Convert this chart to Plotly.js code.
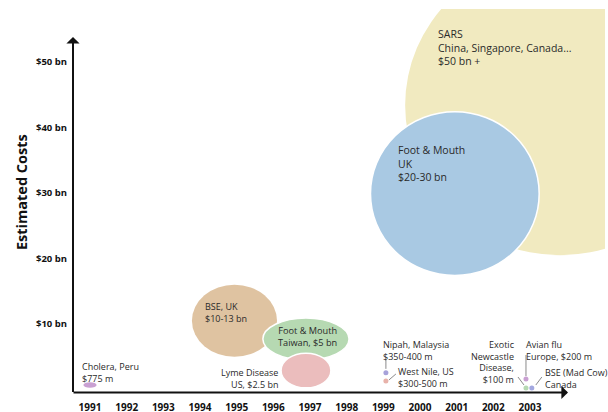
<!DOCTYPE html>
<html>
<head>
<meta charset="utf-8">
<script src="https://cdn.plot.ly/plotly-3.0.1.min.js"></script>
<style>html,body{margin:0;padding:0;background:#fff;}#chart{width:608px;height:412px;}</style>
</head>
<body>
<div id="chart"></div>
<script>
// ---------- data ----------
const years = [1991,1992,1993,1994,1995,1996,1997,1998,1999,2000,2001,2002,2003];
const yearLabels = years.map(String);
const costTicks = [10,20,30,40,50];
const costTickLabels = ['$10 bn','$20 bn','$30 bn','$40 bn','$50 bn'];

// bubble outbreaks (ellipses): centre year, centre cost (bn), span in years, span in bn
const bubbleNames = ['SARS','Foot & Mouth UK','BSE UK','Foot & Mouth Taiwan','Lyme Disease','Cholera Peru'];
const bubbleYear  = [2003.82, 2000.95, 1994.94, 1996.89, 1996.89, 1991.0];
const bubbleCost  = [43.4, 29.9, 10.5, 7.7, 2.9, 0.69];
const bubbleSpanYears = [8.45, 4.6, 2.32, 2.35, 1.36, 0.36];
const bubbleSpanCost  = [45.8, 25.0, 11.0, 6.4, 5.3, 0.85];

// small outbreaks (dots)
const dotNames = ['Nipah, Malaysia','West Nile, US','Avian flu, Europe','Exotic Newcastle Disease','BSE (Mad Cow) Canada'];
const dotYear  = [1999.07, 1999.07, 2002.89, 2002.89, 2003.05];
const dotCost  = [2.54, 1.30, 1.60, 0.23, 0.23];

// ---------- styles / layout helpers ----------
const W = 608, H = 412, MT = 9, MR = 3;
const SX = 36.667, X0 = 1991 - 90 / SX;           // px per year
const SY = 6.55, Y0 = 0, YPX0 = 389.5;             // px per bn, zero line pixel
const xRange = [X0, X0 + (W - MR) / SX];
const yRange = [Y0 - (H - YPX0) / SY, (YPX0 - MT) / SY];
const px2x = p => X0 + p / SX;
const py2y = p => (YPX0 - p) / SY;

const bubbleFill = ['#f1eac0','#a9c9e3','#dfc3a1','#b6d9b2','#ebbdbd','#c9a0d2'];
const bubbleLine = [0, 1.5, 0, 1.5, 1.5, 0];
const dotColor = ['#a7a2da','#e8b2aa','#c9a0d2','#b6d9b2','#a3a8e0'];

// leader lines relative to dots (pixel offsets: dx0,dy0,dx1,dy1, dy up)
const leaders = [
  [0, 4, 0, 14],
  [3, 1, 10, 7],
  [0, 3, 0, 24],
  [-2, 3, -8, 11],
  [4, 3, 10, 11]
];

const shapes = [];
bubbleNames.forEach((n, i) => {
  shapes.push({
    type: 'circle', xref: 'x', yref: 'y', layer: 'below',
    x0: bubbleYear[i] - bubbleSpanYears[i] / 2, x1: bubbleYear[i] + bubbleSpanYears[i] / 2,
    y0: bubbleCost[i] - bubbleSpanCost[i] / 2, y1: bubbleCost[i] + bubbleSpanCost[i] / 2,
    fillcolor: bubbleFill[i],
    line: {color: '#ffffff', width: bubbleLine[i]}
  });
});
dotNames.forEach((n, i) => {
  const l = leaders[i];
  shapes.push({
    type: 'line', xref: 'x', yref: 'y',
    xsizemode: 'pixel', xanchor: dotYear[i], ysizemode: 'pixel', yanchor: dotCost[i],
    x0: l[0], x1: l[2], y0: l[1], y1: l[3],
    line: {color: '#8a8a8a', width: 1}
  });
});

const FONT = 'Open Sans, Noto Sans, sans-serif';
const TXT = '#2a2a2a';
function lab(text, px, py, align, size) {
  return {
    text: text, xref: 'x', yref: 'y', x: px2x(px), y: py2y(py),
    xanchor: align, yanchor: 'top', align: align, showarrow: false,
    font: {family: FONT, size: size, color: TXT}, borderpad: 0
  };
}
const annotations = [
  lab('SARS<br>China, Singapore, Canada...<br>$50 bn +', 437, 26, 'left', 10.5),
  lab('Foot &amp; Mouth<br>UK<br>$20-30 bn', 397, 142, 'left', 10.5),
  lab('BSE, UK<br>$10-13 bn', 204, 299, 'left', 9),
  lab('Foot &amp; Mouth<br>Taiwan, $5 bn', 307, 323, 'center', 9.2),
  lab('Lyme Disease<br>US, $2.5 bn', 279, 365, 'right', 9),
  lab('Cholera, Peru<br>$775 m', 81, 359, 'left', 9),
  lab('Nipah, Malaysia<br>$350-400 m', 382, 337, 'left', 9),
  lab('West Nile, US<br>$300-500 m', 397, 364, 'left', 9),
  lab('Exotic<br>Newcastle<br>Disease,<br>$100 m', 516, 337, 'right', 9),
  lab('Avian flu<br>Europe, $200 m', 525, 337, 'left', 9),
  lab('BSE (Mad Cow)<br>Canada', 544, 365, 'left', 9),
  // y-axis title
  {text: 'Estimated Costs', xref: 'x', yref: 'y', x: px2x(21), y: py2y(192), textangle: -90,
   showarrow: false, font: {family: FONT, size: 14.5, color: '#111', weight: 'bold'}},
  // axis arrows
  {text: '', xref: 'x', yref: 'y', axref: 'x', ayref: 'y',
   x: px2x(568), y: py2y(392.5), ax: px2x(72), ay: py2y(392.5),
   showarrow: true, arrowhead: 1, arrowsize: 1.1, arrowwidth: 2, arrowcolor: '#111', standoff: 0},
  {text: '', xref: 'x', yref: 'y', axref: 'x', ayref: 'y',
   x: px2x(73), y: py2y(37), ax: px2x(73), ay: py2y(393.5),
   showarrow: true, arrowhead: 1, arrowsize: 1.1, arrowwidth: 2, arrowcolor: '#111', standoff: 0}
];

const traces = [{
  type: 'scatter', mode: 'markers', x: dotYear, y: dotCost, text: dotNames,
  marker: {size: 5, color: dotColor}, hoverinfo: 'text', cliponaxis: false, showlegend: false
}];

const layout = {
  width: W, height: H,
  margin: {l: 0, r: MR, t: MT, b: 0, pad: 0},
  paper_bgcolor: '#fff', plot_bgcolor: 'rgba(0,0,0,0)',
  showlegend: false,
  xaxis: {
    range: xRange, domain: [0, 1], anchor: 'free', position: (H - 392.5) / (H - MT),
    showgrid: false, zeroline: false, showline: false, ticks: '',
    tickmode: 'array', tickvals: years, ticktext: yearLabels, ticklabelstandoff: 7,
    tickfont: {family: FONT, size: 10, color: '#111', weight: 'bold'}, fixedrange: true
  },
  yaxis: {
    range: yRange, domain: [0, 1], anchor: 'free', position: 73 / (W - MR),
    showgrid: false, zeroline: false, showline: false, ticks: '',
    tickmode: 'array', tickvals: costTicks, ticktext: costTickLabels, ticklabelstandoff: 6,
    tickfont: {family: FONT, size: 9.5, color: '#111', weight: 'bold'}, fixedrange: true
  },
  shapes: shapes,
  annotations: annotations
};

Plotly.newPlot('chart', traces, layout, {displayModeBar: false, staticPlot: true});
</script>
</body>
</html>
